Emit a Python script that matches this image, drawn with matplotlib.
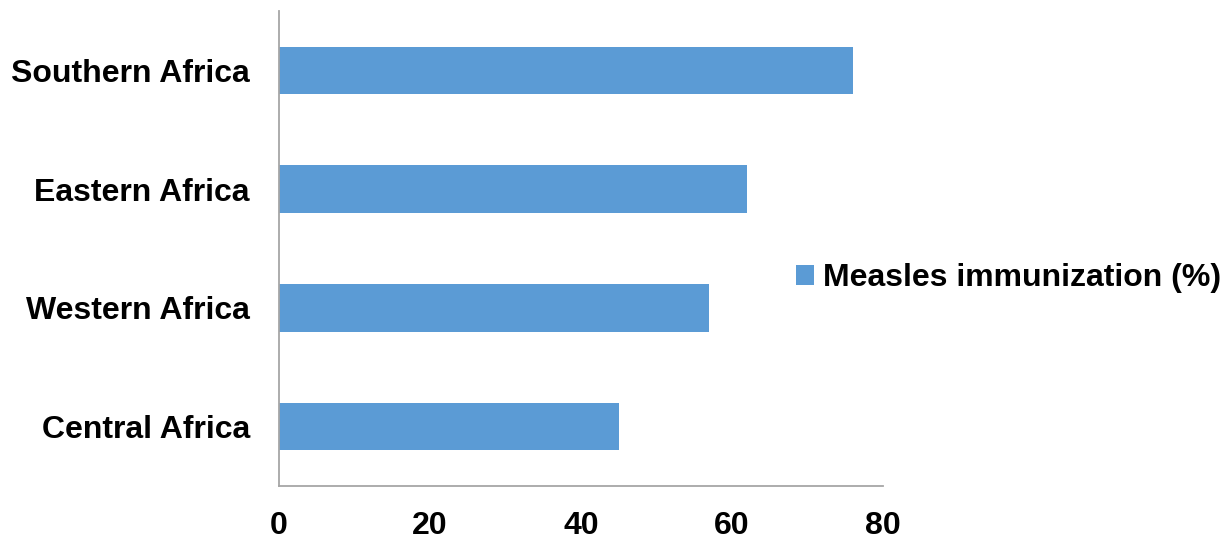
import matplotlib.pyplot as plt

regions = ["Central Africa", "Western Africa", "Eastern Africa", "Southern Africa"]
measles = [45, 57, 62, 76]
ticks = [0, 20, 40, 60, 80]

plt.rcParams['font.family'] = ['Liberation Sans', 'DejaVu Sans']
plt.rcParams['font.weight'] = 'bold'

fig = plt.figure(figsize=(12.27, 5.4), dpi=100)
ax = fig.add_axes([279 / 1227, 54 / 540, 604 / 1227, 475 / 540])

ax.barh(range(len(regions)), measles, height=0.4, color='#5B9BD5',
        label='Measles immunization (%)')
ax.set_xlim(0, 80)
ax.set_ylim(-0.5, len(regions) - 0.5)
ax.set_xticks(ticks)
ax.set_xticklabels([str(t) for t in ticks], fontsize=23, fontweight='bold')
ax.set_yticks(range(len(regions)))
ax.set_yticklabels(regions, fontsize=23, fontweight='bold')
ax.tick_params(axis='both', length=0)
ax.tick_params(axis='x', pad=18)
ax.tick_params(axis='y', pad=21)

for side in ['top', 'right']:
    ax.spines[side].set_visible(False)
for side in ['left', 'bottom']:
    ax.spines[side].set_color('#A6A6A6')
    ax.spines[side].set_linewidth(1.3)

fig.legend(loc='center left', bbox_to_anchor=(796 / 1227, 1 - 278 / 540),
           frameon=False, handlelength=0.55, handleheight=0.6,
           handletextpad=0.28, borderpad=0, borderaxespad=0,
           prop={'weight': 'bold', 'size': 23})

fig.savefig('out.png', dpi=100)
